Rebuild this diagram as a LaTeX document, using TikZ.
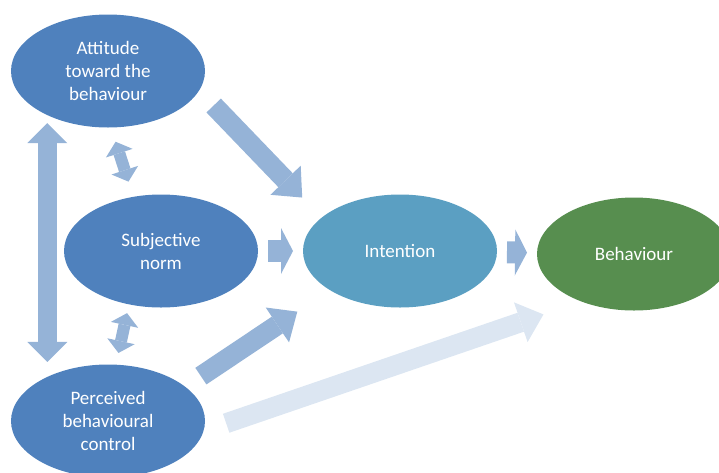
\documentclass[tikz,border=0pt]{standalone}
\usepackage{fontspec}
\setmainfont{Carlito}
\usetikzlibrary{shapes.geometric,arrows.meta}
\definecolor{tpbblue}{HTML}{4F81BD}
\definecolor{intblue}{HTML}{5B9FC2}
\definecolor{behgreen}{HTML}{578E4F}
\definecolor{arrowblue}{HTML}{95B3D7}
\definecolor{palearrow}{HTML}{DCE6F2}
\begin{document}
\begin{tikzpicture}[x=1pt,y=-1pt]
		\tikzstyle{stage}=[ellipse,inner sep=0pt,outer sep=0pt,minimum width=194pt,minimum height=113pt,text=white,align=center,font=\fontsize{19}{23}\selectfont]
		\tikzstyle{flow} = [draw=arrowblue,line width=20pt,-{Triangle[width=42pt,length=24pt,line width=0pt]}]
		\tikzstyle{stub} = [draw=arrowblue,line width=22pt,-{Triangle[width=46pt,length=12pt,line width=0pt]}]
		\tikzstyle{both} = [draw=arrowblue,line width=19pt,{Triangle[width=40pt,length=20pt,line width=0pt]}-{Triangle[width=40pt,length=20pt,line width=0pt]}]
		\tikzstyle{pair} = [draw=arrowblue,line width=12pt,{Triangle[width=28pt,length=12pt,line width=0pt]}-{Triangle[width=28pt,length=12pt,line width=0pt]}]
		
		\useasboundingbox (0,0) rectangle (719,472);
		
		\node[stage,fill=tpbblue] (att) at (108,71) {Attitude\\toward the\\behaviour};
		\node[stage,fill=tpbblue] (sub) at (161,251) {Subjective\\norm};
		\node[stage,fill=tpbblue] (pbc) at (108,421) {Perceived\\behavioural\\control};
		\node[stage,fill=intblue] (int) at (400,251) {Intention};
		\node[stage,fill=behgreen] (beh) at (634,254) {Behaviour};
		
		\draw[flow,shorten <=21pt,shorten >=28pt] (att.-12) -- (int.157);
		\draw[stub,shorten <=10pt,shorten >=10pt] (sub) -- (int);
		\draw[flow,shorten <=19pt,shorten >=39pt] (pbc.24) -- (int.-151);
		\draw[stub,shorten <=10pt,shorten >=10pt] (int) -- (beh);
		\draw[flow,draw=palearrow,shorten <=24pt,shorten >=40pt] (pbc.-6) -- (beh.-138);
		
		\draw[both,shorten <=8pt,shorten >=15pt] (att.216) -- (pbc.144);
		\draw[pair,shorten <=15pt,shorten >=16pt] (att.-87) -- (sub.117);
		\draw[pair,shorten <=9pt,shorten >=12pt] (sub.-121) -- (pbc.82);
		\end{tikzpicture}
\end{document}
